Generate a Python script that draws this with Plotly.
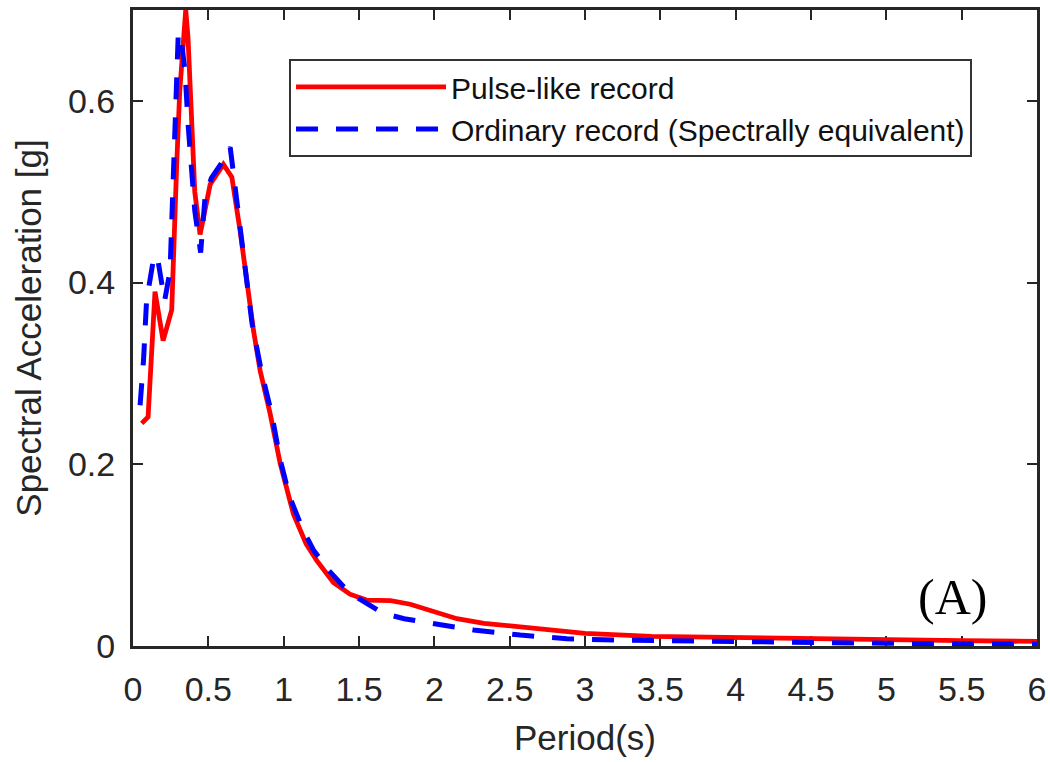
import plotly.graph_objects as go

# Pulse-like record (red, solid)
period_pulse = [0.058, 0.10, 0.146, 0.20, 0.257, 0.27, 0.29, 0.31, 0.33, 0.35, 0.365, 0.39,
                0.41, 0.445, 0.512, 0.60, 0.656, 0.711, 0.755, 0.80, 0.844, 0.91, 0.977,
                1.065, 1.15, 1.22, 1.33, 1.44, 1.55, 1.71, 1.84, 2.02, 2.15, 2.33, 2.55,
                2.77, 3.0, 3.44, 4.0, 4.54, 5.0, 5.5, 6.0]
sa_pulse = [0.245, 0.252, 0.390, 0.336, 0.370, 0.440, 0.530, 0.610, 0.665, 0.700, 0.670, 0.560,
            0.500, 0.453, 0.508, 0.530, 0.516, 0.457, 0.402, 0.347, 0.303, 0.256, 0.201,
            0.145, 0.112, 0.094, 0.070, 0.057, 0.0505, 0.050, 0.046, 0.037, 0.030, 0.025, 0.021,
            0.017, 0.014, 0.0105, 0.009, 0.0082, 0.007, 0.006, 0.005]

# Ordinary record, spectrally equivalent (blue, dashed)
period_ord = [0.047, 0.07, 0.09, 0.115, 0.14, 0.165, 0.19, 0.21, 0.246, 0.266, 0.28, 0.29,
              0.30, 0.315, 0.345, 0.367, 0.39, 0.41, 0.449, 0.478, 0.52, 0.589, 0.645,
              0.666, 0.711, 0.755, 0.79, 0.855, 0.92, 0.977, 1.04, 1.13, 1.2, 1.3, 1.4,
              1.5, 1.66, 1.8, 1.95, 2.26, 2.57, 2.88, 3.2, 3.88, 4.5, 5.0, 6.0]
sa_ord = [0.265, 0.315, 0.380, 0.410, 0.430, 0.425, 0.395, 0.380, 0.413, 0.508, 0.570, 0.626,
          0.672, 0.675, 0.633, 0.571, 0.512, 0.479, 0.433, 0.494, 0.515, 0.532, 0.549,
          0.520, 0.461, 0.406, 0.355, 0.300, 0.256, 0.205, 0.164, 0.127, 0.105, 0.083, 0.065,
          0.052, 0.036, 0.030, 0.0257, 0.0176, 0.012, 0.008, 0.0065, 0.0047, 0.0035, 0.003, 0.0022]

x_ticks = [0, 0.5, 1, 1.5, 2, 2.5, 3, 3.5, 4, 4.5, 5, 5.5, 6]
x_tick_labels = ["0", "0.5", "1", "1.5", "2", "2.5", "3", "3.5", "4", "4.5", "5", "5.5", "6"]
y_ticks = [0, 0.2, 0.4, 0.6]
y_tick_labels = ["0", "0.2", "0.4", "0.6"]

axis_color = "#262626"
font_sans = "Liberation Sans, Arial, Helvetica, sans-serif"

fig = go.Figure()
fig.add_trace(go.Scatter(
    x=period_pulse, y=sa_pulse, mode="lines", name="Pulse-like record",
    line=dict(color="#FF0000", width=4.8),
))
fig.add_trace(go.Scatter(
    x=period_ord, y=sa_ord, mode="lines", name="Ordinary record (Spectrally equivalent)",
    line=dict(color="#0000FF", width=5, dash="22px,18px"),
))

axis_common = dict(
    showgrid=False, zeroline=False, showline=True, linecolor=axis_color, linewidth=3,
    mirror="ticks", ticks="inside", ticklen=10, tickwidth=2, tickcolor=axis_color,
    tickfont=dict(family=font_sans, size=34, color=axis_color),
    layer="below traces", automargin=False,
)

fig.update_xaxes(
    range=[0, 6], tickvals=x_ticks, ticktext=x_tick_labels, ticklabelstandoff=11,
    title=dict(text="Period(s)", font=dict(family=font_sans, size=35, color=axis_color), standoff=19),
    **axis_common,
)
fig.update_yaxes(
    range=[0, 0.7], tickvals=y_ticks, ticktext=y_tick_labels, ticklabelstandoff=8,
    title=dict(text="Spectral Acceleration [g]", font=dict(family=font_sans, size=35, color=axis_color), standoff=16),
    **axis_common,
)

fig.add_annotation(
    x=0.907, y=0.077, xref="paper", yref="paper", text="(A)", showarrow=False,
    font=dict(family="Liberation Serif, Times New Roman, serif", size=50, color="black"),
    xanchor="center", yanchor="middle",
)

fig.update_layout(
    width=1050, height=762,
    margin=dict(l=133, r=13, t=10, b=116, autoexpand=False),
    paper_bgcolor="white", plot_bgcolor="white",
    showlegend=True,
    legend=dict(
        x=0.1726, y=0.923, xanchor="left", yanchor="top",
        bgcolor="white", bordercolor="#333333", borderwidth=2,
        font=dict(family=font_sans, size=30, color="#111111"),
        itemwidth=150, tracegroupgap=0,
    ),
)

fig.write_html("out.html", config={"displayModeBar": False},
               post_script="document.body.style.margin='0';")
